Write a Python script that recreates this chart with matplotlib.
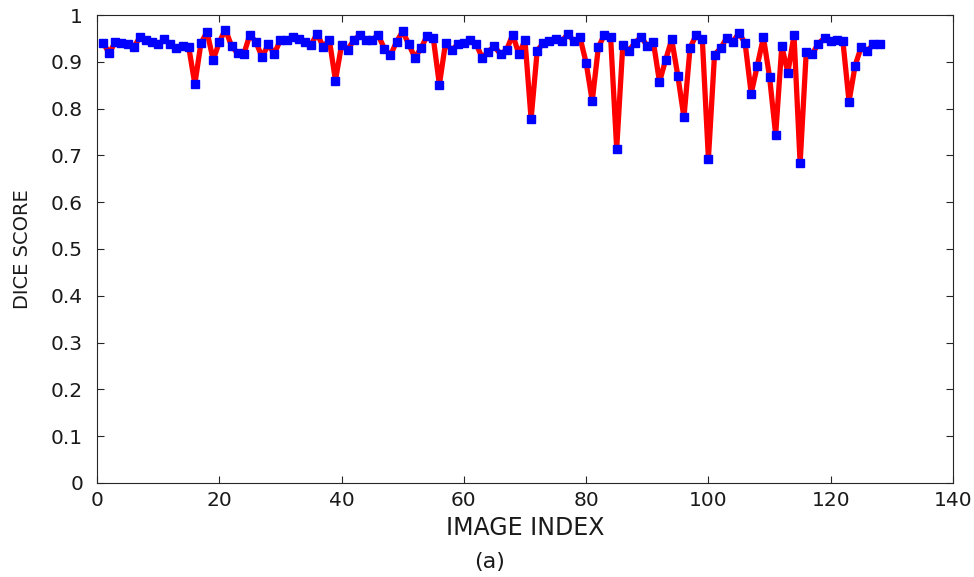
import numpy as np
import matplotlib
matplotlib.use("Agg")
import matplotlib.pyplot as plt

plt.rcParams['font.family'] = ['DejaVu Sans']

# dice score per image
image_index = np.arange(1, 129)
dice = [
    0.940, 0.919, 0.942, 0.940, 0.937, 0.931, 0.952, 0.947, 0.942, 0.937,
    0.948, 0.937, 0.929, 0.934, 0.932, 0.852, 0.940, 0.964, 0.904, 0.942,
    0.969, 0.934, 0.918, 0.916, 0.958, 0.942, 0.910, 0.937, 0.917, 0.947,
    0.947, 0.953, 0.948, 0.942, 0.936, 0.960, 0.932, 0.947, 0.860, 0.936,
    0.926, 0.946, 0.958, 0.946, 0.947, 0.957, 0.928, 0.914, 0.943, 0.965,
    0.937, 0.909, 0.929, 0.956, 0.951, 0.851, 0.940, 0.925, 0.937, 0.940,
    0.947, 0.938, 0.909, 0.922, 0.933, 0.916, 0.926, 0.958, 0.916, 0.946,
    0.778, 0.924, 0.940, 0.944, 0.949, 0.944, 0.959, 0.944, 0.952, 0.898,
    0.816, 0.931, 0.958, 0.954, 0.714, 0.936, 0.924, 0.941, 0.953, 0.934,
    0.942, 0.857, 0.904, 0.948, 0.870, 0.781, 0.930, 0.957, 0.949, 0.693,
    0.915, 0.929, 0.951, 0.943, 0.961, 0.940, 0.832, 0.892, 0.952, 0.868,
    0.744, 0.933, 0.877, 0.957, 0.683, 0.920, 0.917, 0.939, 0.951, 0.944,
    0.947, 0.944, 0.815, 0.892, 0.932, 0.924, 0.937, 0.937,
]
yticks = [0, 0.1, 0.2, 0.3, 0.4, 0.5, 0.6, 0.7, 0.8, 0.9, 1]
ytick_labels = ['0', '0.1', '0.2', '0.3', '0.4', '0.5', '0.6', '0.7', '0.8', '0.9', '1']

fig = plt.figure(figsize=(9.74, 5.77), dpi=100)
ax = fig.add_axes([0.0996, 0.163, 0.8788, 0.811])

ax.plot(image_index, dice, color='#ff0000', linewidth=3.8, zorder=2)
ax.plot(image_index, dice, linestyle='none', marker='s', markersize=5.8,
        color='#0000ff', markeredgecolor='#0000ff', zorder=3)

ax.set_xlim(0, 140)
ax.set_ylim(0, 1)
ax.set_xticks(np.arange(0, 141, 20))
ax.set_yticks(yticks)
ax.set_yticklabels(ytick_labels)

ax.tick_params(direction='in', top=True, right=True, length=5, width=0.8,
               color='#262626', labelsize=14.5, labelcolor='#1a1a1a')
ax.tick_params(axis='y', pad=10)
ax.tick_params(axis='x', pad=6)
for s in ax.spines.values():
    s.set_color('#262626')
    s.set_linewidth(0.8)

ax.set_xlabel('IMAGE INDEX', fontsize=17, labelpad=4, color='#1a1a1a')
ax.set_ylabel('DICE SCORE', fontsize=14, color='#1a1a1a')
ax.yaxis.set_label_coords(-0.076, 0.5)
fig.text(0.503, 0.026, '(a)', fontsize=16, ha='center', va='center', color='#1a1a1a')

fig.savefig('out.png', dpi=100)
